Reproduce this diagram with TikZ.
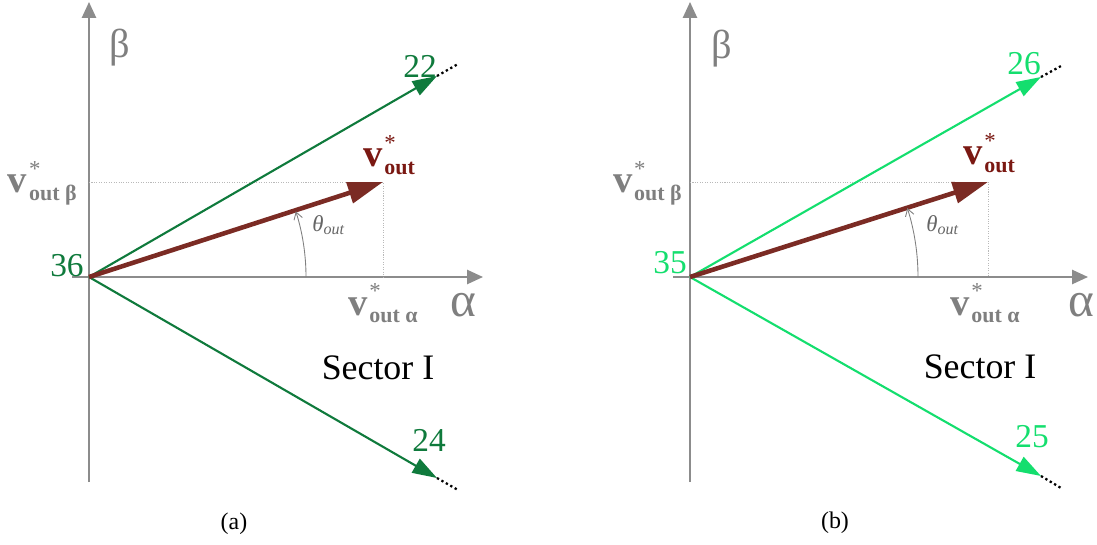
\documentclass[tikz,border=0pt]{standalone}
\usepackage{fontspec}
\setmainfont{Liberation Serif}
\usetikzlibrary{arrows.meta}
\definecolor{axisgray}{HTML}{8C8C8C}
\definecolor{labelgray}{HTML}{7F7F7F}
\definecolor{darkgreen}{HTML}{0F7A3C}
\definecolor{lightgreen}{HTML}{14DE6E}
\definecolor{vecbrown}{HTML}{7B2B24}
\definecolor{textbrown}{HTML}{7A1812}
% reference vector label: bold v, star on top, bold subscript
\newcommand{\vstar}[1]{\bfseries{\fontsize{22}{22}\selectfont v}\makebox[0pt][l]{\raisebox{9.5pt}{\kern1pt\fontsize{13}{13}\selectfont\mdseries *}}\raisebox{-4pt}{\kern1pt\fontsize{12.5}{12.5}\selectfont #1}}

\begin{document}
\begin{tikzpicture}[x=0.02cm,y=0.02cm,
  axis/.style={draw=axisgray,line width=1.1pt,-{Triangle[length=9pt,width=8pt]}},
  guide/.style={draw=gray!55,line width=0.4pt,dash pattern=on 0.6pt off 0.8pt},
  sw/.style={line width=1.2pt,-{Triangle[length=14pt,width=9pt]}},
  ext/.style={draw=black,line width=1.3pt,dash pattern=on 1.3pt off 1.6pt},
  vec/.style={draw=vecbrown,line width=2.6pt,-{Triangle[length=20pt,width=12pt]}},
  anglearc/.style={draw=gray,line width=0.5pt,-{Straight Barb[length=4pt,width=5pt]}},
  num/.style={font=\fontsize{19}{19}\selectfont,inner sep=0pt},
  axlbl/.style={text=labelgray,inner sep=0pt},
  caption/.style={font=\fontsize{13.6}{16}\selectfont}]
\useasboundingbox (-89,-267) rectangle (1008,277);

% (a)
\begin{scope}
  \coordinate (oa) at (0,0);
  \coordinate (ya1) at (0,-205);
  \coordinate (ya2) at (0,275);
  \coordinate (xa1) at (-17,0);
  \coordinate (xa2) at (394,0);
  \coordinate (va) at (294,95);
  \coordinate (pa) at (348,201);
  \coordinate (pae) at (369,213);
  \coordinate (qa) at (348,-201);
  \coordinate (qae) at (369,-213);
  \draw[axis] (ya1) -- (ya2);
  \draw[axis] (xa1) -- (xa2);
  \draw[guide] (oa |- va) -- (va) -- (va |- oa);
  \draw[sw,darkgreen] (oa) -- (pa);
  \draw[ext] (pa) -- (pae);
  \draw[sw,darkgreen] (oa) -- (qa);
  \draw[ext] (qa) -- (qae);
  \draw[vec] (oa) -- (va);
  \draw[anglearc] ([shift={(0:217)}]oa) arc[start angle=0,end angle=17.6,radius=217];
  \node[axlbl,font=\fontsize{23}{23}\selectfont] (ba) at (31,229) {β};
  \node[axlbl,font=\fontsize{28}{28}\selectfont] (aa) at (374,-28) {α};
  \node[num,text=darkgreen] (na) at (-22,11) {36};
  \node[num,text=darkgreen] (n22) at (331,211) {22};
  \node[num,text=darkgreen] (n24) at (340,-163) {24};
  \node[axlbl,anchor=base east] (vba) at (-12,84) {\vstar{out β}};
  \node[axlbl,anchor=base west] (vaa) at (259,-38) {\vstar{out α}};
  \node[text=textbrown,inner sep=0pt,anchor=base west] (vla) at (274,110) {\vstar{out}};
  \node[text=gray!80!black,anchor=west,inner sep=0pt] (ta) at (223,52) {\fontsize{13}{13}\selectfont\itshape θ\textsubscript{out}};
  \node[font=\fontsize{20.4}{24}\selectfont] (sa) at (289,-91) {Sector I};
  \node[caption] (ca) at (145,-247) {(a)};
\end{scope}

% (b)
\begin{scope}[shift={(601,0)}]
  \coordinate (ob) at (0,0);
  \coordinate (yb1) at (0,-205);
  \coordinate (yb2) at (0,275);
  \coordinate (xb1) at (-17,0);
  \coordinate (xb2) at (398,0);
  \coordinate (vb) at (298,95);
  \coordinate (pb) at (351,200);
  \coordinate (pbe) at (371,211);
  \coordinate (qb) at (351,-199);
  \coordinate (qbe) at (371,-211);
  \draw[axis] (yb1) -- (yb2);
  \draw[axis] (xb1) -- (xb2);
  \draw[guide] (ob |- vb) -- (vb) -- (vb |- ob);
  \draw[sw,lightgreen] (ob) -- (pb);
  \draw[ext] (pb) -- (pbe);
  \draw[sw,lightgreen] (ob) -- (qb);
  \draw[ext] (qb) -- (qbe);
  \draw[vec] (ob) -- (vb);
  \draw[anglearc] ([shift={(0:228)}]ob) arc[start angle=0,end angle=17.6,radius=228];
  \node[axlbl,font=\fontsize{23}{23}\selectfont] (bb) at (32,228) {β};
  \node[axlbl,font=\fontsize{28}{28}\selectfont] (ab) at (391,-28) {α};
  \node[num,text=lightgreen] (nb) at (-20,14) {35};
  \node[num,text=lightgreen] (n26) at (334,213) {26};
  \node[num,text=lightgreen] (n25) at (342,-160) {25};
  \node[axlbl,anchor=base east] (vbb) at (-8,84) {\vstar{out β}};
  \node[axlbl,anchor=base west] (vab) at (260,-38) {\vstar{out α}};
  \node[text=textbrown,inner sep=0pt,anchor=base west] (vlb) at (273,112) {\vstar{out}};
  \node[text=gray!80!black,anchor=west,inner sep=0pt] (tb) at (236,52) {\fontsize{13}{13}\selectfont\itshape θ\textsubscript{out}};
  \node[font=\fontsize{20.4}{24}\selectfont] (sb) at (290,-90) {Sector I};
  \node[caption] (cb) at (145,-246) {(b)};
\end{scope}
\end{tikzpicture}
\end{document}
